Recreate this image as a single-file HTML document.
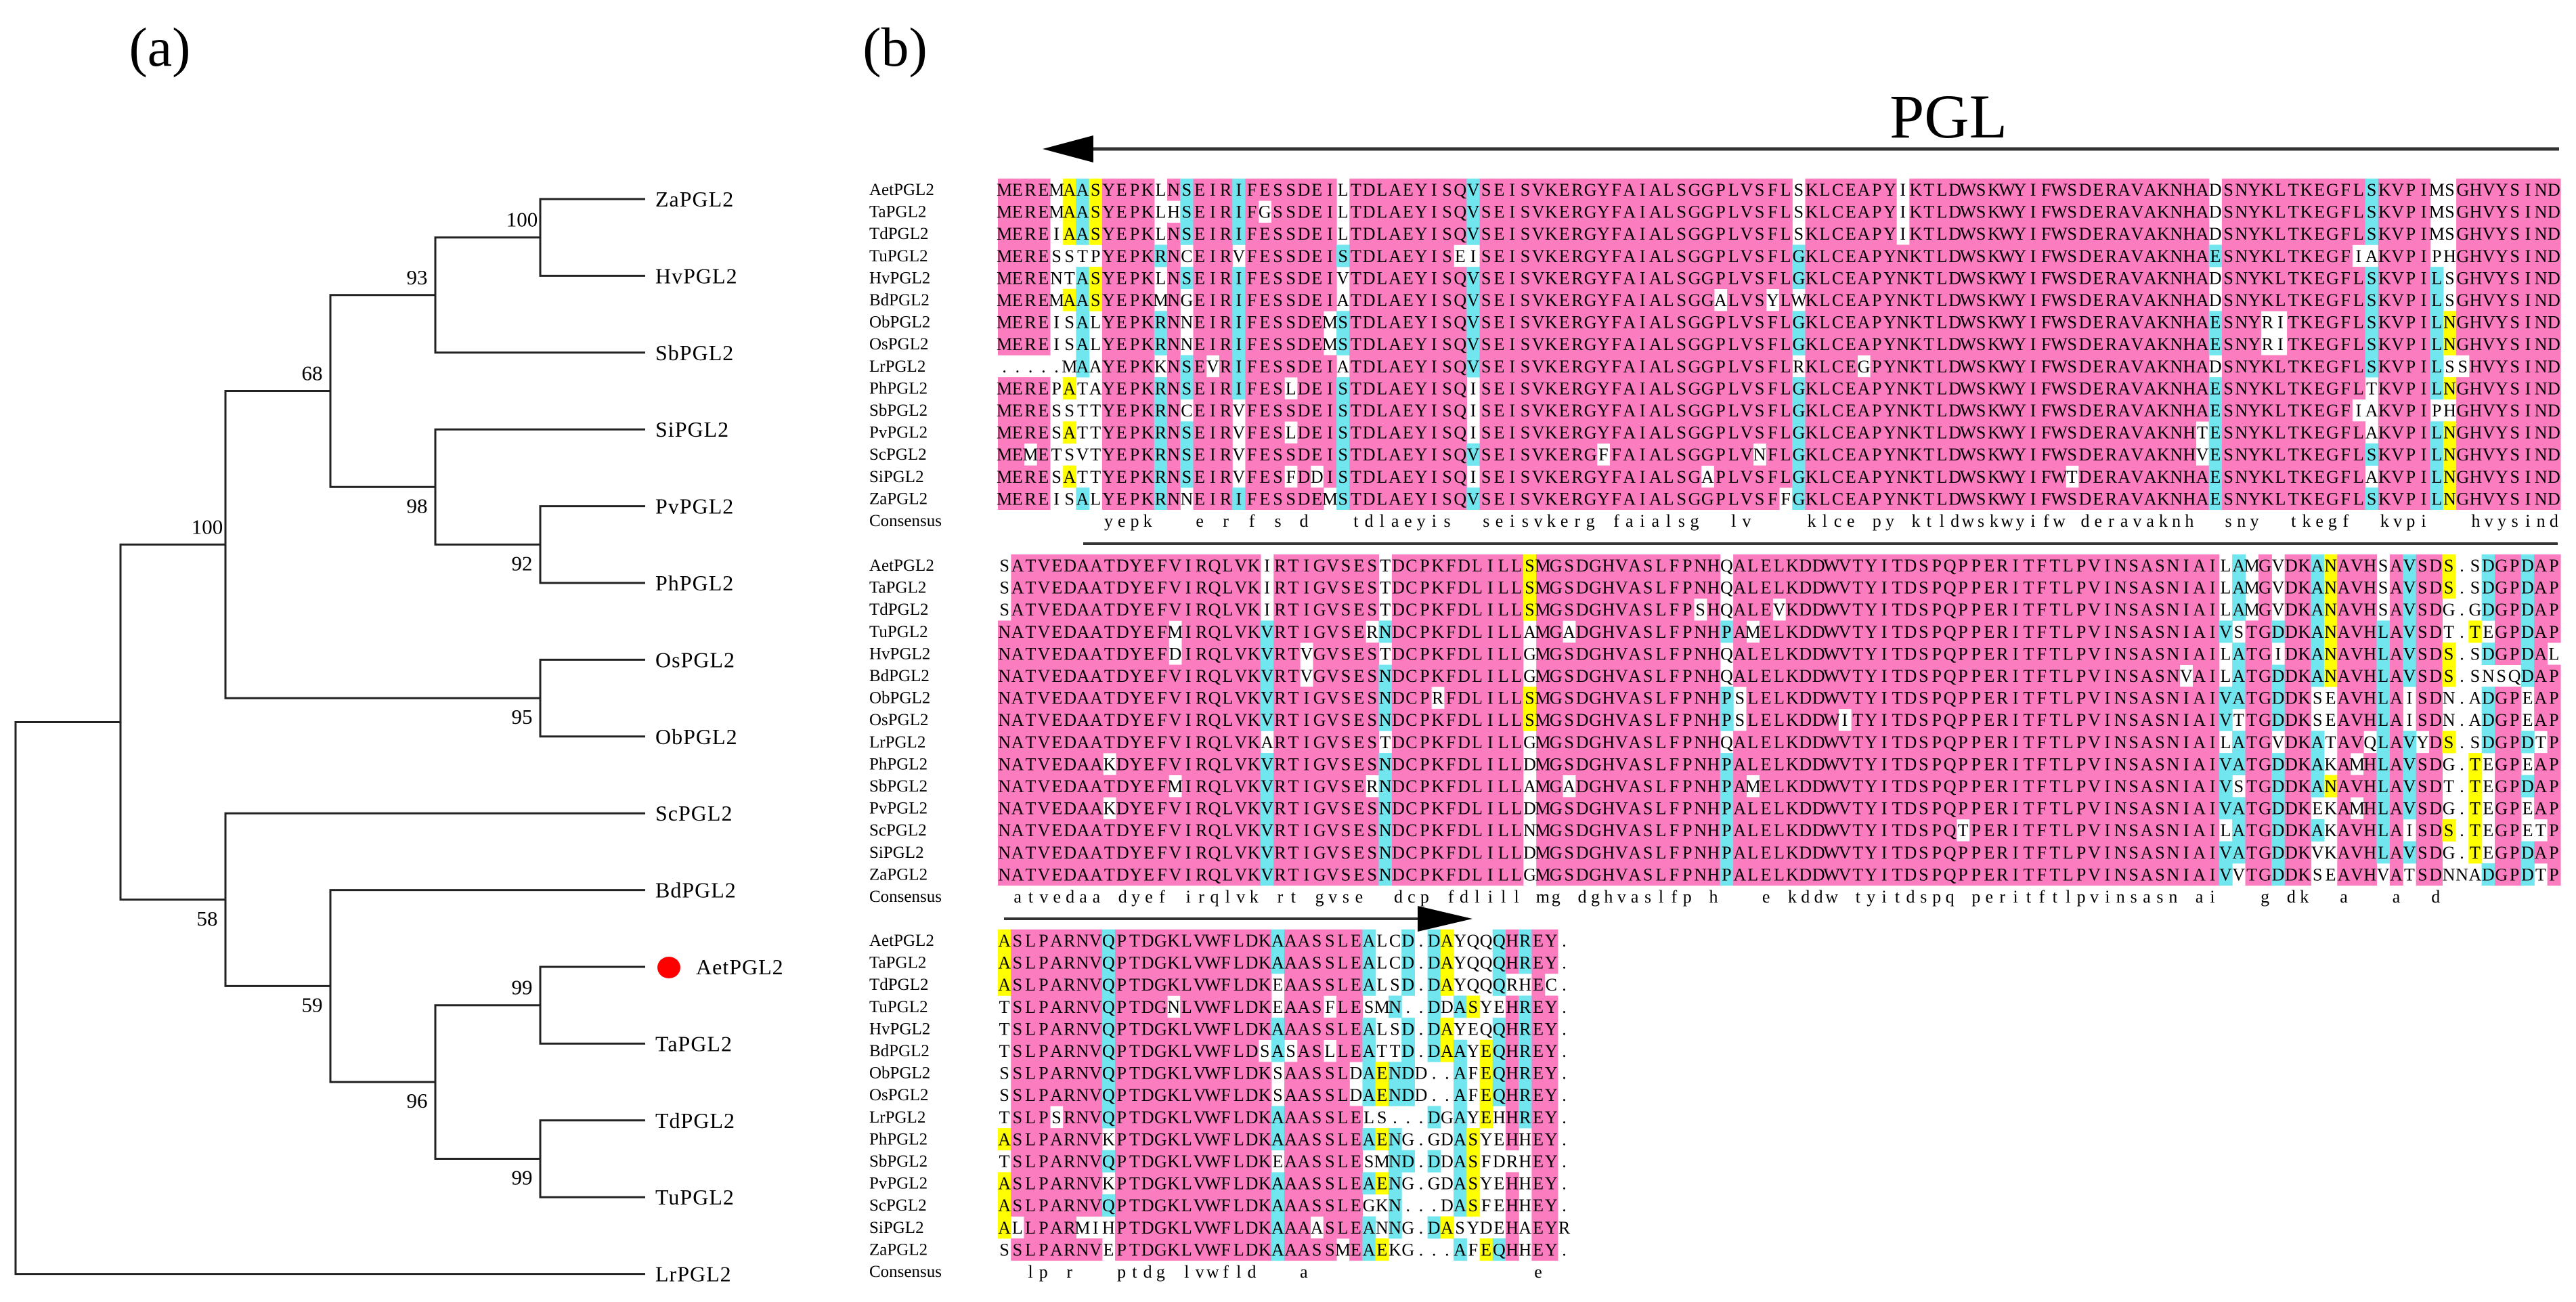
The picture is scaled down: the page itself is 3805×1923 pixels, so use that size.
<!DOCTYPE html>
<html><head><meta charset="utf-8"><title>PGL2 phylogeny and alignment</title>
<style>
html,body{margin:0;padding:0;background:#fff;}
svg{display:block;font-family:"Liberation Serif",serif;}
</style></head>
<body>
<svg id="fig" width="3805" height="1923" viewBox="0 0 3805 1923" xmlns="http://www.w3.org/2000/svg">
<rect x="0" y="0" width="3805" height="1923" fill="#fff"/>
<text x="236" y="97" font-size="82" text-anchor="middle">(a)</text>
<text x="1322" y="97" font-size="82" text-anchor="middle">(b)</text>
<g id="tree"></g>
<text x="2878" y="203" font-size="92" text-anchor="middle">PGL</text>
<g>
<line x1="1600" y1="220" x2="3780" y2="220" stroke="#333" stroke-width="5"/>
<polygon points="1540,220 1615,200 1615,240" fill="#000"/>
</g>
<line x1="1600" y1="803" x2="3778" y2="803" stroke="#333" stroke-width="4"/>
<g>
<line x1="1483" y1="1357" x2="2100" y2="1357" stroke="#333" stroke-width="4"/>
<polygon points="2175,1357 2094,1338 2094,1376" fill="#000"/>
</g>
<g id="align"></g>
</svg>
<script>
// ---------- Tree data ----------
const leafNames = ["ZaPGL2","HvPGL2","SbPGL2","SiPGL2","PvPGL2","PhPGL2","OsPGL2","ObPGL2","ScPGL2","BdPGL2","AetPGL2","TaPGL2","TdPGL2","TuPGL2","LrPGL2"];
// internal nodes: children (leaf index as number, node as "nX"), depth level, bootstrap, label side
const nodeIds = ["nZaHv","n93","nPvPh","n98","n68","nOsOb","n100","nAetTa","nTdTu","n96","n59","n58","n1","root"];
const nodeChildren = [[0,1],[ "nZaHv",2],[4,5],[3,"nPvPh"],["n93","n98"],[6,7],["n68","nOsOb"],[10,11],[12,13],["nAetTa","nTdTu"],[9,"n96"],[8,"n59"],["n100","n58"],["n1",14]];
const nodeLevel = [5,4,5,4,3,5,2,5,5,4,3,2,1,0];
const bootstrap = ["100","93","92","98","68","95","100","99","99","96","59","58","",""];
const bootSide = [-1,-1,1,1,-1,1,-1,-1,1,1,1,1,0,0];

const NS="http://www.w3.org/2000/svg";
function mk(tag, attrs, parent){const e=document.createElementNS(NS,tag);for(const k in attrs)e.setAttribute(k,attrs[k]);parent.appendChild(e);return e;}
const levelX = l => 23 + l*155.0;
const leafEndX = 953;
const leafY = i => 294 + i*113.4;
const tree = document.getElementById('tree');
const nodeY = {};
function yOf(c){return typeof c==="number"?leafY(c):nodeY[c];}
function xOf(c){return typeof c==="number"?leafEndX:levelX(nodeLevel[nodeIds.indexOf(c)]);}
nodeIds.forEach((id,k)=>{
  const ch=nodeChildren[k];
  const ys=ch.map(yOf);
  nodeY[id]=(ys[0]+ys[1])/2;
  const x=levelX(nodeLevel[k]);
  const v=mk('line',{x1:x,y1:ys[0],x2:x,y2:ys[1],stroke:'#222','stroke-width':3},tree);
  
  
  ch.forEach(c=>{
    const h=mk('line',{x1:x-1.5,y1:yOf(c),x2:xOf(c),y2:yOf(c),stroke:'#222','stroke-width':3},tree);
    
    
  });
  if(bootstrap[k]){
    const t=mk('text',{x:x-27,y:nodeY[id]+bootSide[k]*27+11,'font-size':31,'text-anchor':'middle'},tree);
    t.textContent=bootstrap[k];
    
    
  }
});
leafNames.forEach((n,i)=>{
  const isAet = n==="AetPGL2";
  if(isAet){
    const d=mk('ellipse',{cx:988,cy:leafY(i)+1,rx:17,ry:16,fill:'#f00'},tree);
    
    
  }
  const t=mk('text',{x:isAet?1028:968,y:leafY(i)+11,'font-size':32,'letter-spacing':1},tree);
  t.textContent=n;
  
  
});

// ---------- Alignment data ----------
const seqNames = ["AetPGL2","TaPGL2","TdPGL2","TuPGL2","HvPGL2","BdPGL2","ObPGL2","OsPGL2","LrPGL2","PhPGL2","SbPGL2","PvPGL2","ScPGL2","SiPGL2","ZaPGL2"];
const block1 = [
"MEREMAASYEPKLNSEIRIFESSDEILTDLAEYISQVSEISVKERGYFAIALSGGPLVSFLSKLCEAPYIKTLDWSKWYIFWSDERAVAKNHADSNYKLTKEGFLSKVPIMSGHVYSIND",
"MEREMAASYEPKLHSEIRIFGSSDEILTDLAEYISQVSEISVKERGYFAIALSGGPLVSFLSKLCEAPYIKTLDWSKWYIFWSDERAVAKNHADSNYKLTKEGFLSKVPIMSGHVYSIND",
"MEREIAASYEPKLNSEIRIFESSDEILTDLAEYISQVSEISVKERGYFAIALSGGPLVSFLSKLCEAPYIKTLDWSKWYIFWSDERAVAKNHADSNYKLTKEGFLSKVPIMSGHVYSIND",
"MERESSTPYEPKRNCEIRVFESSDEISTDLAEYISEISEISVKERGYFAIALSGGPLVSFLGKLCEAPYNKTLDWSKWYIFWSDERAVAKNHAESNYKLTKEGFIAKVPIPHGHVYSIND",
"MERENTASYEPKLNSEIRIFESSDEIVTDLAEYISQVSEISVKERGYFAIALSGGPLVSFLGKLCEAPYNKTLDWSKWYIFWSDERAVAKNHADSNYKLTKEGFLSKVPILSGHVYSIND",
"MEREMAASYEPKMNGEIRIFESSDEIATDLAEYISQVSEISVKERGYFAIALSGGALVSYLWKLCEAPYNKTLDWSKWYIFWSDERAVAKNHADSNYKLTKEGFLSKVPILSGHVYSIND",
"MEREISALYEPKRNNEIRIFESSDEMSTDLAEYISQVSEISVKERGYFAIALSGGPLVSFLGKLCEAPYNKTLDWSKWYIFWSDERAVAKNHAESNYRITKEGFLSKVPILNGHVYSIND",
"MEREISALYEPKRNNEIRIFESSDEMSTDLAEYISQVSEISVKERGYFAIALSGGPLVSFLGKLCEAPYNKTLDWSKWYIFWSDERAVAKNHAESNYRITKEGFLSKVPILNGHVYSIND",
".....MAAYEPKKNSEVRIFESSDEIATDLAEYISQVSEISVKERGYFAIALSGGPLVSFLRKLCEGPYNKTLDWSKWYIFWSDERAVAKNHADSNYKLTKEGFLSKVPILSSHVYSIND",
"MEREPATAYEPKRNSEIRIFESLDEISTDLAEYISQISEISVKERGYFAIALSGGPLVSFLGKLCEAPYNKTLDWSKWYIFWSDERAVAKNHAESNYKLTKEGFLTKVPILNGHVYSIND",
"MERESSTTYEPKRNCEIRVFESSDEISTDLAEYISQISEISVKERGYFAIALSGGPLVSFLGKLCEAPYNKTLDWSKWYIFWSDERAVAKNHAESNYKLTKEGFIAKVPIPHGHVYSIND",
"MERESATTYEPKRNSEIRVFESLDEISTDLAEYISQISEISVKERGYFAIALSGGPLVSFLGKLCEAPYNKTLDWSKWYIFWSDERAVAKNHTESNYKLTKEGFLAKVPILNGHVYSIND",
"MEMETSVTYEPKRNSEIRVFESSDEISTDLAEYISQVSEISVKERGFFAIALSGGPLVNFLGKLCEAPYNKTLDWSKWYIFWSDERAVAKNHVESNYKLTKEGFLSKVPILNGHVYSIND",
"MERESATTYEPKRNSEIRVFESFDDISTDLAEYISQISEISVKERGYFAIALSGAPLVSFLGKLCEAPYNKTLDWSKWYIFWTDERAVAKNHAESNYKLTKEGFLAKVPILNGHVYSIND",
"MEREISALYEPKRNNEIRIFESSDEMSTDLAEYISQVSEISVKERGYFAIALSGGPLVSFFGKLCEAPYNKTLDWSKWYIFWSDERAVAKNHAESNYKLTKEGFLSKVPILNGHVYSIND"];
const block2 = [
"SATVEDAATDYEFVIRQLVKIRTIGVSESTDCPKFDLILLSMGSDGHVASLFPNHQALELKDDWVTYITDSPQPPERITFTLPVINSASNIAILAMGVDKANAVHSAVSDS.SDGPDAP",
"SATVEDAATDYEFVIRQLVKIRTIGVSESTDCPKFDLILLSMGSDGHVASLFPNHQALELKDDWVTYITDSPQPPERITFTLPVINSASNIAILAMGVDKANAVHSAVSDS.SDGPDAP",
"SATVEDAATDYEFVIRQLVKIRTIGVSESTDCPKFDLILLSMGSDGHVASLFPSHQALEVKDDWVTYITDSPQPPERITFTLPVINSASNIAILAMGVDKANAVHSAVSDG.GDGPDAP",
"NATVEDAATDYEFMIRQLVKVRTIGVSERNDCPKFDLILLAMGADGHVASLFPNHPAMELKDDWVTYITDSPQPPERITFTLPVINSASNIAIVSTGDDKANAVHLAVSDT.TEGPDAP",
"NATVEDAATDYEFDIRQLVKVRTVGVSESTDCPKFDLILLGMGSDGHVASLFPNHQALELKDDWVTYITDSPQPPERITFTLPVINSASNIAILATGIDKANAVHLAVSDS.SDGPDAL",
"NATVEDAATDYEFVIRQLVKVRTVGVSESNDCPKFDLILLGMGSDGHVASLFPNHQALELKDDWVTYITDSPQPPERITFTLPVINSASNVAILATGDDKANAVHLAVSDS.SNSQDAP",
"NATVEDAATDYEFVIRQLVKVRTIGVSESNDCPRFDLILLSMGSDGHVASLFPNHPSLELKDDWVTYITDSPQPPERITFTLPVINSASNIAIVATGDDKSEAVHLAISDN.ADGPEAP",
"NATVEDAATDYEFVIRQLVKVRTIGVSESNDCPKFDLILLSMGSDGHVASLFPNHPSLELKDDWITYITDSPQPPERITFTLPVINSASNIAIVTTGDDKSEAVHLAISDN.ADGPEAP",
"NATVEDAATDYEFVIRQLVKARTIGVSESTDCPKFDLILLGMGSDGHVASLFPNHQALELKDDWVTYITDSPQPPERITFTLPVINSASNIAILATGVDKATAVQLAVYDS.SDGPDTP",
"NATVEDAAKDYEFVIRQLVKVRTIGVSESNDCPKFDLILLDMGSDGHVASLFPNHPALELKDDWVTYITDSPQPPERITFTLPVINSASNIAIVATGDDKAKAMHLAVSDG.TEGPEAP",
"NATVEDAATDYEFMIRQLVKVRTIGVSERNDCPKFDLILLAMGADGHVASLFPNHPAMELKDDWVTYITDSPQPPERITFTLPVINSASNIAIVSTGDDKANAVHLAVSDT.TEGPDAP",
"NATVEDAAKDYEFVIRQLVKVRTIGVSESNDCPKFDLILLDMGSDGHVASLFPNHPALELKDDWVTYITDSPQPPERITFTLPVINSASNIAIVATGDDKEKAMHLAVSDG.TEGPEAP",
"NATVEDAATDYEFVIRQLVKVRTIGVSESNDCPKFDLILLNMGSDGHVASLFPNHPALELKDDWVTYITDSPQTPERITFTLPVINSASNIAILATGDDKAKAVHLAISDS.TEGPETP",
"NATVEDAATDYEFVIRQLVKVRTIGVSESNDCPKFDLILLDMGSDGHVASLFPNHPALELKDDWVTYITDSPQPPERITFTLPVINSASNIAIVATGDDKVKAVHLAVSDG.TEGPDAP",
"NATVEDAATDYEFVIRQLVKVRTIGVSESNDCPKFDLILLGMGSDGHVASLFPNHPALELKDDWVTYITDSPQPPERITFTLPVINSASNIAIVVTGDDKSEAVHVATSDNNADGPDTP"];
const block3 = [
"ASLPARNVQPTDGKLVWFLDKAAASSLEALCD.DAYQQQHREY.",
"ASLPARNVQPTDGKLVWFLDKAAASSLEALCD.DAYQQQHREY.",
"ASLPARNVQPTDGKLVWFLDKEAASSLEALSD.DAYQQQRHEC.",
"TSLPARNVQPTDGNLVWFLDKEAASFLESMN..DDASYEHREY.",
"TSLPARNVQPTDGKLVWFLDKAAASSLEALSD.DAYEQQHREY.",
"TSLPARNVQPTDGKLVWFLDSASASLLEATTD.DAAYEQHREY.",
"SSLPARNVQPTDGKLVWFLDKSAASSLDAENDD..AFEQHREY.",
"SSLPARNVQPTDGKLVWFLDKSAASSLDAENDD..AFEQHREY.",
"TSLPSRNVQPTDGKLVWFLDKAAASSLELS...DGAYEHHREY.",
"ASLPARNVKPTDGKLVWFLDKAAASSLEAENG.GDASYEHHEY.",
"TSLPARNVQPTDGKLVWFLDKEAASSLESMND.DDASFDRHEY.",
"ASLPARNVKPTDGKLVWFLDKAAASSLEAENG.GDASYEHHEY.",
"ASLPARNVQPTDGKLVWFLDKAAASSLEGKN...DASFEHHEY.",
"ALLPARMIHPTDGKLVWFLDKAAAASLEANNG.DASYDEHAEYR",
"SSLPARNVEPTDGKLVWFLDKAAASSMEAEKG...AFEQHHEY."];
const blocks = [block1, block2, block3];

// ---------- layout ----------
const blockTop = [280, 835, 1389];
const seqX0 = 1474, seqX1 = 3782, rowPitch = 32.6, cellDefault = 19.23;
const COL_PINK = "#fb7dbf", COL_CYAN = "#72e6ee", COL_YEL = "#ffff00";
const align = document.getElementById('align');

blocks.forEach((seqs,b)=>{
  const len = Math.max(...seqs.map(s=>s.length));
  const cw = len > 60 ? (seqX1 - seqX0)/len : cellDefault;
  const y0 = blockTop[b];
  const g = mk('g',{},align);
  
  
  // column stats
  const colTop = [], colCount = [], consensus = [];
  for(let c=0;c<len;c++){
    const cnt={};
    seqs.forEach(s=>{const ch=s[c]||'.'; if(ch!=='.') cnt[ch]=(cnt[ch]||0)+1;});
    let best='',bc=0; for(const k in cnt){if(cnt[k]>bc){bc=cnt[k];best=k;}}
    colTop.push(best); colCount.push(bc);
    consensus.push(bc===seqs.length ? best.toLowerCase() : ' ');
  }
  seqs.forEach((s,r)=>{
    const yc = y0 + r*rowPitch;
    const nm = mk('text',{x:1284,y:yc+8,'font-size':25},g);
    nm.textContent = seqNames[r];
    
    
    for(let c=0;c<len;c++){
      const ch=s[c]; if(!ch || ch==='.' || ch!==colTop[c]) continue;
      const n=colCount[c];
      const fill = n>=12?COL_PINK:(n>=8?COL_CYAN:(n>=5?COL_YEL:null));
      if(!fill) continue;
      const rc=mk('rect',{x:(seqX0+c*cw).toFixed(2),y:(yc-16.3).toFixed(2),width:(cw+0.6).toFixed(2),height:rowPitch+0.3,fill:fill},g);
      
      
    }
    const xs=[]; for(let c=0;c<s.length;c++) xs.push((seqX0+(c+0.5)*cw).toFixed(2));
    const t=mk('text',{x:xs.join(' '),y:yc+9,'font-size':26,'text-anchor':'middle'},g);
    t.textContent=s;
    
    
  });
  const yc = y0 + seqs.length*rowPitch;
  const cl = mk('text',{x:1284,y:yc+8,'font-size':25},g);
  cl.textContent="Consensus";
  
  
  const xs=[]; for(let c=0;c<len;c++) xs.push((seqX0+(c+0.5)*cw).toFixed(2));
  const ct=mk('text',{x:xs.join(' '),y:yc+9,'font-size':26,'text-anchor':'middle','xml:space':'preserve'},g);
  ct.setAttribute('style','white-space:pre');
  ct.textContent=consensus.join('');
  
  
});
</script>
</body></html>
